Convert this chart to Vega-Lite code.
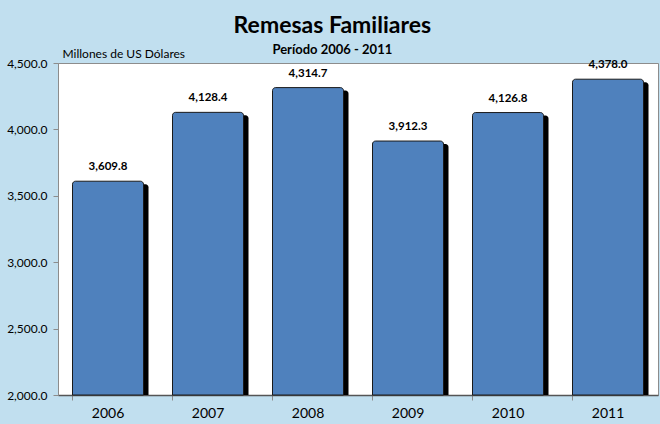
{
  "$schema": "https://vega.github.io/schema/vega-lite/v6.json",
  "width": 600,
  "height": 332,
  "autosize": "none",
  "padding": {"left": 58, "top": 63, "right": 2, "bottom": 29},
  "background": "#C1DFEF",
  "config": {
    "font": "Lato",
    "view": {"fill": "#FFFFFF", "stroke": "#8C8C8C", "strokeWidth": 1}
  },
  "title": {
    "text": "Remesas Familiares",
    "subtitle": "Período 2006 - 2011",
    "anchor": "middle",
    "frame": "bounds",
    "fontSize": 23,
    "fontWeight": "bold",
    "color": "#000000",
    "subtitleFontSize": 13,
    "subtitleFontWeight": "bold",
    "subtitleColor": "#000000",
    "subtitlePadding": 6,
    "offset": -10,
    "font": "Lato",
    "subtitleFont": "Lato"
  },
  "data": {
    "values": [
      {"year": "2006", "value": 3609.8},
      {"year": "2007", "value": 4128.4},
      {"year": "2008", "value": 4314.7},
      {"year": "2009", "value": 3912.3},
      {"year": "2010", "value": 4126.8},
      {"year": "2011", "value": 4378.0}
    ]
  },
  "encoding": {
    "x": {
      "field": "year",
      "type": "ordinal",
      "scale": {"paddingInner": 0.29, "paddingOuter": 0.145},
      "axis": {
        "title": null,
        "labelAngle": 0,
        "labelFontSize": 14,
        "labelColor": "#000000",
        "labelPadding": 6,
        "bandPosition": 0,
        "tickSize": 5,
        "tickColor": "#8C8C8C",
        "domainColor": "#555555",
        "domainWidth": 1.5
      }
    },
    "y": {
      "field": "value",
      "type": "quantitative",
      "scale": {"domain": [2000, 4500], "zero": false, "nice": false},
      "axis": {
        "title": "Millones de US Dólares",
        "titleAngle": 0,
        "titleX": 4,
        "titleY": -3,
        "titleAlign": "left",
        "titleBaseline": "bottom",
        "titleFontSize": 12,
        "titleFontWeight": "normal",
        "titleColor": "#000000",
        "values": [2000, 2500, 3000, 3500, 4000, 4500],
        "format": ",.1f",
        "labelFontSize": 12,
        "labelColor": "#000000",
        "labelPadding": 6,
        "tickSize": 5,
        "tickColor": "#8C8C8C",
        "domainColor": "#8C8C8C",
        "grid": false
      }
    }
  },
  "layer": [
    {
      "mark": {
        "type": "bar",
        "fill": "#000000",
        "xOffset": 5,
        "yOffset": 3,
        "cornerRadiusTopLeft": 3,
        "cornerRadiusTopRight": 3,
        "clip": true
      },
      "encoding": {"y2": {"datum": 2000}}
    },
    {
      "mark": {
        "type": "bar",
        "fill": "#4F81BD",
        "stroke": "#1A1A1A",
        "strokeWidth": 1,
        "cornerRadiusTopLeft": 3,
        "cornerRadiusTopRight": 3
      },
      "encoding": {"y2": {"datum": 2000}}
    },
    {
      "mark": {
        "type": "text",
        "dy": -9,
        "baseline": "bottom",
        "fontSize": 11.5,
        "fontWeight": "bold",
        "color": "#000000"
      },
      "encoding": {"text": {"field": "value", "type": "quantitative", "format": ",.1f"}}
    }
  ]
}
